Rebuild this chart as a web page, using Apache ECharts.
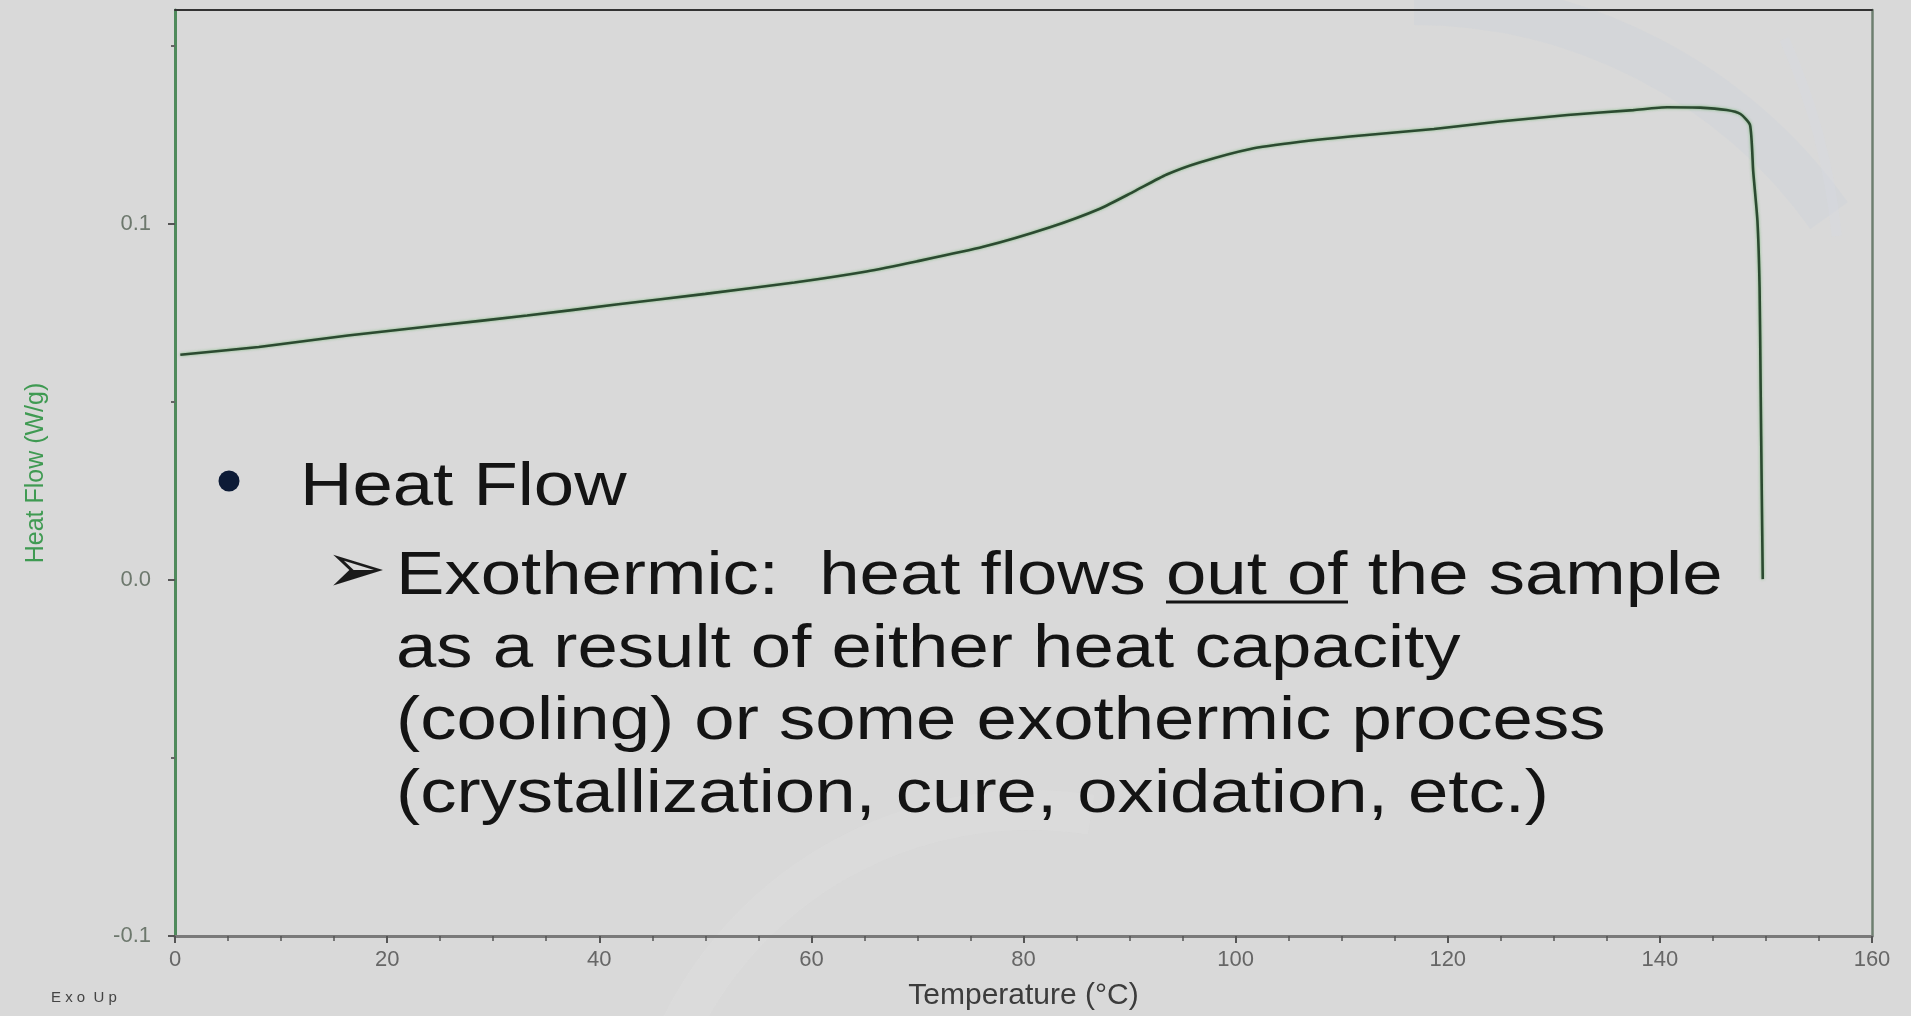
<!DOCTYPE html>
<html>
<head>
<meta charset="utf-8">
<script src="https://cdn.jsdelivr.net/npm/echarts@6/dist/echarts.min.js"></script>
<style>
html,body{margin:0;padding:0;background:#d9d9d9;}
#chart{width:1911px;height:1016px;}
</style>
</head>
<body>
<div id="chart"></div>
<script>
// Temperature (°C)
const temperature = [0.5, 7.9, 16.3, 24.75, 33.2, 41.6, 50.0, 58.4, 65.2, 69.9, 76.2, 82.5, 87.2, 90.4, 93.5, 96.6, 101.4, 106.1, 110.8, 118.7, 124.9, 131.3, 137.5, 140.7, 143.8, 146.3, 147.6, 148.5, 148.8, 149.2, 149.4, 149.5, 149.6, 149.7];
// Heat Flow (W/g)
const heatFlow = [0.0632, 0.0654, 0.0686, 0.0714, 0.0742, 0.0773, 0.0803, 0.0835, 0.0866, 0.0894, 0.0935, 0.0990, 0.1042, 0.1090, 0.1138, 0.1172, 0.1210, 0.1230, 0.1245, 0.1266, 0.1287, 0.1305, 0.1319, 0.1327, 0.1326, 0.1319, 0.1308, 0.1277, 0.1147, 0.1007, 0.0821, 0.0542, 0.0263, 0.0002];
const yLabelTicks = [-0.1, 0.0, 0.1];
const yMinorTicks = [-0.05, 0.05, 0.15];
const xAxisName = 'Temperature (°C)';
const yAxisName = 'Heat Flow (W/g)';
const bulletTitle = 'Heat Flow';
const bulletLines = [
  'Exothermic:  heat flows out of the sample',
  'as a result of either heat capacity',
  '(cooling) or some exothermic process',
  '(crystallization, cure, oxidation, etc.)'
];

const chart = echarts.init(document.getElementById('chart'));
const bodyFont = '62px "Liberation Sans", Arial, sans-serif';
const sx = 1.17;
const lineMid = [577, 650, 722, 795];

const graphics = [
  // faint watermark swooshes
  { type: 'arc', z: 0, silent: true, shape: { cx: 1414, cy: 512, r: 510, startAngle: -Math.PI / 2, endAngle: -0.62, clockwise: true },
    style: { stroke: 'rgba(205,210,218,0.4)', fill: null, lineWidth: 46 } },
  { type: 'arc', z: 0, silent: true, shape: { cx: 1200, cy: 300, r: 640, startAngle: -0.42, endAngle: -0.1, clockwise: true },
    style: { stroke: 'rgba(215,218,225,0.4)', fill: null, lineWidth: 10 } },
  { type: 'arc', z: 0, silent: true, shape: { cx: 1030, cy: 1200, r: 390, startAngle: Math.PI * 1.12, endAngle: Math.PI * 1.55, clockwise: true },
    style: { stroke: 'rgba(226,226,229,0.25)', fill: null, lineWidth: 40 } },
  // bullet
  { type: 'circle', z: 100, shape: { cx: 229, cy: 481, r: 10.5 }, style: { fill: '#0d1b36' } },
  { type: 'text', z: 100, x: 300, y: 488, scaleX: sx,
    style: { text: bulletTitle, font: bodyFont, fill: '#141414', verticalAlign: 'middle', align: 'left' } },
  { type: 'text', z: 100, x: 325, y: 574, scaleX: 1.05,
    style: { text: '➢', font: '70px "DejaVu Sans", sans-serif', fill: '#1a1a1a', verticalAlign: 'middle', align: 'left' } },
  // underline under "out of"
  { type: 'line', z: 100, shape: { x1: 1166, y1: 602, x2: 1348, y2: 602 }, style: { stroke: '#141414', lineWidth: 3 } },
  { type: 'text', z: 100, left: 51, top: 990,
    style: { text: 'E x o  U p', font: '15px "Liberation Sans", Arial, sans-serif', fill: '#444' } }
];
bulletLines.forEach((t, i) => {
  graphics.push({ type: 'text', z: 100, x: 396, y: lineMid[i], scaleX: sx,
    style: { text: t, font: bodyFont, fill: '#141414', verticalAlign: 'middle', align: 'left' } });
});

const option = {
  backgroundColor: '#d9d9d9',
  animation: false,
  grid: { left: 175, right: 39, top: 10, bottom: 72, containLabel: false },
  xAxis: [
    {
      type: 'value', min: 0, max: 160, interval: 20, position: 'bottom',
      name: xAxisName, nameLocation: 'middle', nameGap: 45,
      nameTextStyle: { fontSize: 30, color: '#3c3c3c', fontFamily: '"Liberation Sans", Arial, sans-serif' },
      axisLine: { onZero: false, lineStyle: { color: '#7a7a7a', width: 3 } },
      axisTick: { show: true, length: 7, lineStyle: { color: '#555', width: 2 } },
      minorTick: { show: true, splitNumber: 4, length: 5, lineStyle: { color: '#555', width: 1.5 } },
      axisLabel: { margin: 13, fontSize: 22, color: '#666', fontFamily: '"Liberation Sans", Arial, sans-serif' },
      splitLine: { show: false }
    },
    {
      type: 'value', min: 0, max: 160, position: 'top',
      axisLine: { show: true, onZero: false, lineStyle: { color: '#333', width: 2 } },
      axisTick: { show: false }, axisLabel: { show: false }, splitLine: { show: false }
    }
  ],
  yAxis: [
    {
      type: 'value', min: -0.1, max: 0.16, position: 'left',
      name: yAxisName, nameLocation: 'middle', nameGap: 126, nameRotate: 90,
      nameTextStyle: { fontSize: 25, color: '#3f9a52', fontFamily: '"Liberation Sans", Arial, sans-serif' },
      axisLine: { show: true, onZero: false, lineStyle: { color: '#4f8a5c', width: 3 } },
      axisTick: { show: true, length: 7, customValues: yLabelTicks, lineStyle: { color: '#555', width: 2 } },
      axisLabel: { margin: 24, fontSize: 22, color: '#6d786d', customValues: yLabelTicks,
        fontFamily: '"Liberation Sans", Arial, sans-serif',
        formatter: v => v.toFixed(1) },
      splitLine: { show: false }
    },
    {
      type: 'value', min: -0.1, max: 0.16, position: 'left',
      axisLine: { show: false },
      axisTick: { show: true, length: 4, customValues: yMinorTicks, lineStyle: { color: '#666', width: 2 } },
      axisLabel: { show: false }, splitLine: { show: false }
    },
    {
      type: 'value', min: -0.1, max: 0.16, position: 'right',
      axisLine: { show: true, onZero: false, lineStyle: { color: '#6e7f70', width: 2.5 } },
      axisTick: { show: false }, axisLabel: { show: false }, splitLine: { show: false }
    }
  ],
  graphic: graphics,
  series: [{
    type: 'line',
    xAxisIndex: 0, yAxisIndex: 0,
    data: temperature.map((t, i) => [t, heatFlow[i]]),
    showSymbol: false,
    smooth: 0.2,
    lineStyle: { color: '#2c4a31', width: 2.6, shadowColor: 'rgba(70,170,70,0.6)', shadowBlur: 3 },
    z: 5
  }]
};
chart.setOption(option);
</script>
</body>
</html>
